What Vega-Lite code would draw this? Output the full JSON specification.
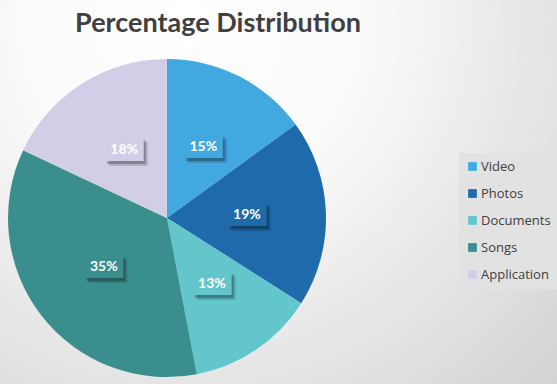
{
  "$schema": "https://vega.github.io/schema/vega-lite/v6.json",
  "width": 780,
  "height": 436,
  "autosize": {"type": "none"},
  "padding": {"left": -223, "top": 0, "right": 0, "bottom": 0},
  "background": "#dddddd",
  "title": {
    "text": "Percentage Distribution",
    "font": "Lato",
    "fontSize": 27,
    "fontWeight": "bold",
    "color": "#404040",
    "anchor": "middle",
    "dx": 51,
    "offset": -38
  },
  "data": {
    "values": [
      {"category": "Video", "share": 0.15, "rank": 1},
      {"category": "Photos", "share": 0.19, "rank": 2},
      {"category": "Documents", "share": 0.13, "rank": 3},
      {"category": "Songs", "share": 0.35, "rank": 4},
      {"category": "Application", "share": 0.18, "rank": 5}
    ]
  },
  "encoding": {
    "theta": {"field": "share", "type": "quantitative", "stack": true},
    "order": {"field": "rank", "type": "quantitative"}
  },
  "layer": [
    {
      "data": {"values": [{}]},
      "encoding": {},
      "mark": {
        "type": "rect",
        "color": {
          "gradient": "radial",
          "x1": 0.53, "y1": 0.25, "r1": 0,
          "x2": 0.53, "y2": 0.25, "r2": 0.7,
          "stops": [
            {"offset": 0, "color": "#ffffff"},
            {"offset": 0.3, "color": "#fbfbfb"},
            {"offset": 0.7, "color": "#e2e2e2"},
            {"offset": 1, "color": "#cfcfcf"}
          ]
        }
      }
    },
    {
      "mark": {"type": "arc", "outerRadius": 159},
      "encoding": {
        "color": {
          "field": "category",
          "type": "nominal",
          "scale": {
            "domain": ["Video", "Photos", "Documents", "Songs", "Application"],
            "range": ["#41a9e0", "#1e6aaa", "#62c6cc", "#3a8f8e", "#d2cee8"]
          },
          "legend": {
            "orient": "none",
            "legendX": 682,
            "legendY": 153,
            "title": null,
            "padding": 7,
            "fillColor": "#e2e2e2",
            "symbolType": "square",
            "symbolSize": 76,
            "symbolStrokeWidth": 0,
            "labelFont": "Open Sans",
            "labelFontSize": 13,
            "labelColor": "#404040",
            "labelOffset": 2,
            "rowPadding": 13
          }
        }
      }
    },
    {
      "mark": {
        "type": "text",
        "text": "██▌",
        "font": "DejaVu Sans",
        "fontSize": 20,
        "radius": 80,
        "dx": 8,
        "dy": 5,
        "color": "#000000",
        "opacity": 0.15
      }
    },
    {
      "mark": {
        "type": "text",
        "text": "██▌",
        "font": "DejaVu Sans",
        "fontSize": 20,
        "radius": 80,
        "dx": 6,
        "dy": 3,
        "color": "#000000",
        "opacity": 0.25
      }
    },
    {
      "mark": {
        "type": "text",
        "text": "██▌",
        "font": "DejaVu Sans",
        "fontSize": 20,
        "radius": 80,
        "dx": 4
      },
      "encoding": {
        "color": {"field": "category", "type": "nominal"}
      }
    },
    {
      "mark": {
        "type": "text",
        "radius": 80,
        "font": "Lato",
        "fontSize": 14,
        "fontWeight": "bold",
        "color": "#ffffff"
      },
      "encoding": {
        "text": {"field": "share", "type": "quantitative", "format": ".0%"}
      }
    }
  ],
  "config": {"view": {"stroke": null}}
}
